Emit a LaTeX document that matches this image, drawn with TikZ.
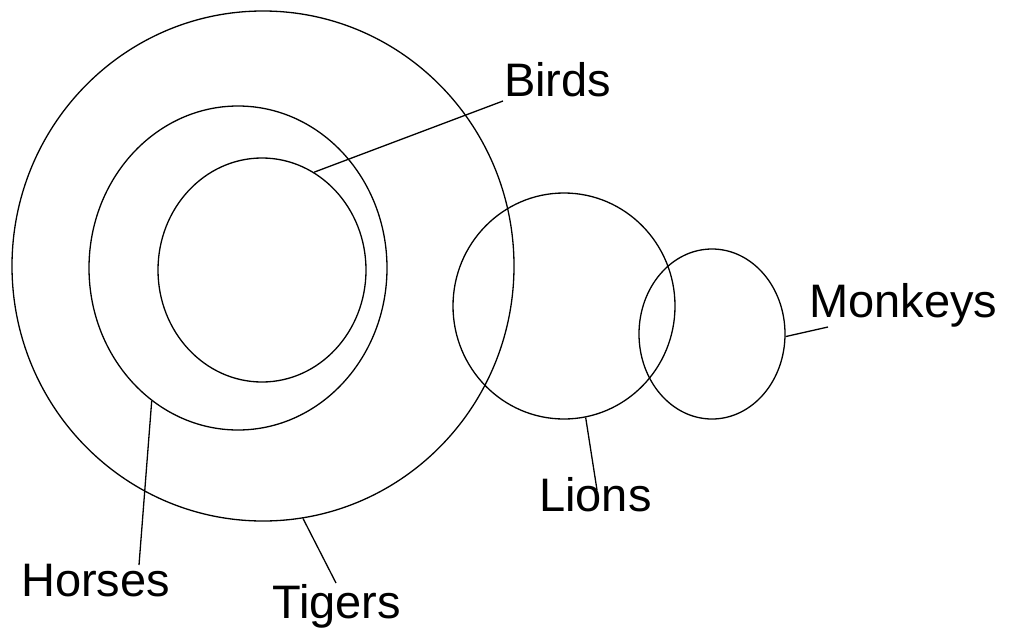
\documentclass[tikz,border=0pt]{standalone}
\usepackage{fontspec}
\setmainfont{Liberation Sans}
\usetikzlibrary{shapes.geometric}
\begin{document}
\begin{tikzpicture}[x=1pt,y=-1pt,
  set/.style={draw, ellipse, inner sep=0pt, line width=1.3pt},
  lbl/.style={anchor=base west, inner sep=0pt, font=\fontsize{47}{56}\selectfont},
  lead/.style={line width=1.3pt}]
\useasboundingbox (0,0) rectangle (1011,637);
\node[set, minimum width=502pt, minimum height=510pt] (tigers) at (263,266) {};
\node[set, minimum width=298pt, minimum height=324pt] (horses) at (238,268) {};
\node[set, minimum width=208pt, minimum height=224pt] (birds) at (262,270) {};
\node[set, minimum width=222pt, minimum height=226pt] (lions) at (564,306) {};
\node[set, minimum width=146pt, minimum height=170pt] (monkeys) at (712,334) {};
\node[lbl] (tBirds) at (504,96) {Birds};
\node[lbl] (tMonkeys) at (809,317) {Monkeys};
\node[lbl] (tLions) at (539,511) {Lions};
\node[lbl] (tHorses) at (21,596) {Horses};
\node[lbl] (tTigers) at (272,618) {Tigers};
\coordinate (eBirds) at (503,101);
\coordinate (eMonkeys) at (828,327);
\coordinate (eLions) at (597,490);
\coordinate (eHorses) at (139,565);
\coordinate (eTigers) at (336,583);
\draw[lead] (birds.62) -- (eBirds);
\draw[lead] (monkeys.358) -- (eMonkeys);
\draw[lead] (lions.281.6) -- (eLions);
\draw[lead] (horses.237.3) -- (eHorses);
\draw[lead] (tigers.279.5) -- (eTigers);
\end{tikzpicture}
\end{document}
